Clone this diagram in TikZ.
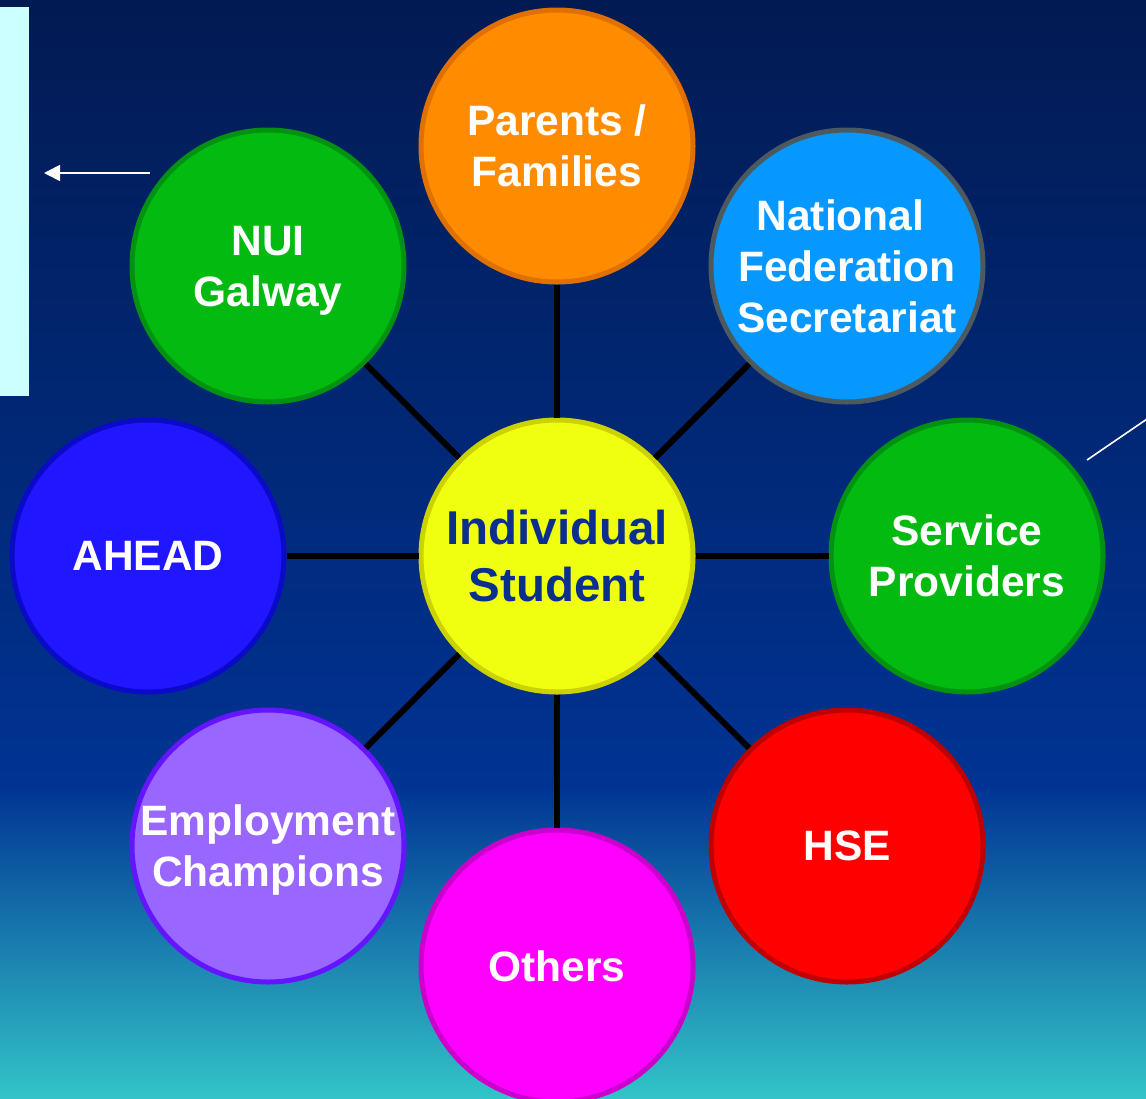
\documentclass[tikz,border=0pt]{standalone}
\usepackage{fontspec}
\setmainfont{Liberation Sans}
\usetikzlibrary{arrows.meta}

\definecolor{bgtop}{HTML}{021A52}
\definecolor{bgmid}{HTML}{003393}
\definecolor{bgbot}{HTML}{32C4C8}
\definecolor{panelcyan}{HTML}{CCFFFF}
\definecolor{studentblue}{HTML}{0A2F8F}

\tikzset{
  hub/.style={circle, minimum size=272pt, inner sep=0pt, line width=5pt,
    align=center, text=white, font=\bfseries\fontsize{42.5}{51}\selectfont},
  flatbase/.style={text depth=0pt},
  spoke/.style={line width=6pt, black},
}

\begin{document}
\begin{tikzpicture}[x=1pt, y=-1pt]
  \useasboundingbox (0,0) rectangle (1146,1098);
  \clip (0,0) rectangle (1146,1098);

  % background: navy fading to teal
  \shade[top color=bgtop, bottom color=bgmid] (0,0) rectangle (1146,786);
  \shade[top color=bgmid, bottom color=bgbot] (0,785) rectangle (1146,1098);

  % side panel and pointers
  \fill[panelcyan] (0,7) rectangle (29,396);
  \coordinate (arrowstart) at (150,173);
  \coordinate (arrowend) at (44,173);
  \draw[white, line width=1.6pt, -{Triangle[length=16pt, width=16pt]}] (arrowstart) -- (arrowend);
  \coordinate (rayA) at (1087,460);
  \coordinate (rayB) at (1147,419);
  \draw[white, line width=1.6pt] (rayA) -- (rayB);

  % circles
  \node[hub, fill={rgb,255:red,240;green,255;blue,16}, draw={rgb,255:red,204;green,210;blue,0},
        text=studentblue, font=\bfseries\fontsize{47.5}{57}\selectfont]
        (student) at (557,556) {Individual\\Student};
  \node[hub, flatbase, fill={rgb,255:red,255;green,140;blue,0}, draw={rgb,255:red,224;green,112;blue,0}]
        (parents) at (557,146) {Parents /\\Families};
  \node[hub, flatbase, fill={rgb,255:red,2;green,186;blue,16}, draw={rgb,255:red,0;green,146;blue,16}]
        (nui) at (268,266) {NUI\\Galway};
  \node[hub, fill={rgb,255:red,6;green,152;blue,255}, draw={rgb,255:red,76;green,90;blue,96}]
        (natfed) at (847,266) {National\kern13pt\\Federation\\Secretariat};
  \node[hub, fill={rgb,255:red,32;green,22;blue,255}, draw={rgb,255:red,10;green,10;blue,200}]
        (ahead) at (148,556) {AHEAD};
  \node[hub, fill={rgb,255:red,2;green,186;blue,16}, draw={rgb,255:red,0;green,146;blue,16}]
        (service) at (967,556) {Service\\Providers};
  \node[hub, flatbase, fill={rgb,255:red,153;green,102;blue,255}, draw={rgb,255:red,100;green,20;blue,255}]
        (employ) at (268,846) {Employment\\Champions};
  \node[hub, fill={rgb,255:red,255;green,0;blue,0}, draw={rgb,255:red,192;green,0;blue,0}]
        (hse) at (847,846) {HSE};
  \node[hub, fill={rgb,255:red,255;green,0;blue,255}, draw={rgb,255:red,204;green,0;blue,204}]
        (others) at (557,966) {Others};

  % spokes
  \foreach \n in {parents,nui,natfed,ahead,service,employ,hse,others}
    \draw[spoke] (student) -- (\n);
\end{tikzpicture}
\end{document}
